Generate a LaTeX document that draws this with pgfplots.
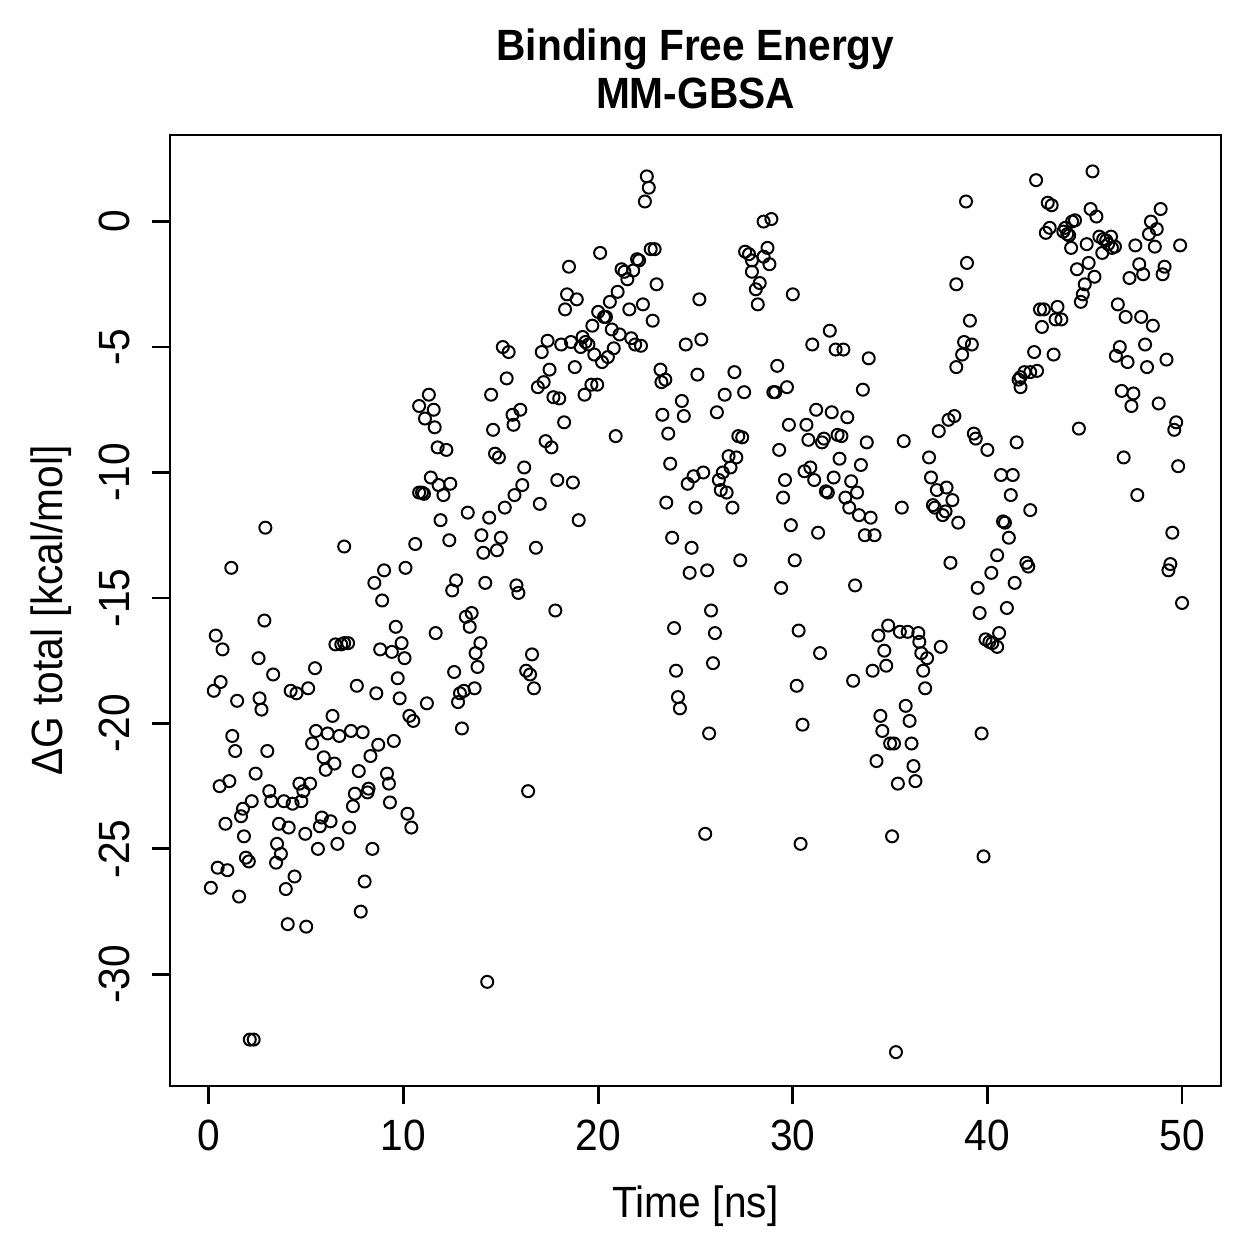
\documentclass[border=0pt]{standalone}
\usepackage{fontspec}
\setmainfont{Liberation Sans}[FakeStretch=0.93]
\usepackage{pgfplots}
\pgfplotsset{compat=1.18}
\pgfplotstableread{
x y
0.1 -26.55
0.25 -18.7
0.35 -16.5
0.45 -25.75
0.55 -22.5
0.6 -18.35
0.7 -17.05
0.85 -24.0
0.95 -25.85
1.05 -22.3
1.15 -13.8
1.2 -20.5
1.35 -21.1
1.45 -19.1
1.55 -26.9
1.65 -23.7
1.75 -23.4
1.8 -24.5
1.9 -25.35
2.05 -25.5
2.1 -32.6
2.3 -32.6
2.2 -23.1
2.4 -22.0
2.55 -17.4
2.6 -19.0
2.7 -19.45
2.85 -15.9
2.9 -12.2
3.0 -21.1
3.1 -22.7
3.2 -23.1
3.3 -18.05
3.45 -25.55
3.5 -24.8
3.6 -24.0
3.7 -25.2
3.85 -23.1
3.95 -26.6
4.05 -28.0
4.1 -24.15
4.2 -18.7
4.3 -23.2
4.4 -26.1
4.5 -18.8
4.65 -22.4
4.75 -23.1
4.85 -22.7
4.95 -24.4
5.0 -28.1
5.1 -18.6
5.2 -22.4
5.3 -20.8
5.45 -17.8
5.5 -20.3
5.6 -25.0
5.7 -24.1
5.8 -23.75
5.9 -21.35
6.0 -21.85
6.1 -20.4
6.25 -23.9
6.35 -19.7
6.45 -21.6
6.5 -16.85
6.6 -24.8
6.7 -20.5
6.8 -16.85
6.95 -16.8
6.95 -12.95
7.15 -16.8
7.2 -24.15
7.3 -20.3
7.4 -23.3
7.5 -22.8
7.6 -18.5
7.7 -21.9
7.8 -27.5
7.9 -20.35
8.0 -26.3
8.15 -22.75
8.2 -22.6
8.3 -21.3
8.4 -25.0
8.5 -14.4
8.6 -18.8
8.7 -20.85
8.8 -17.05
8.9 -15.1
9.0 -13.9
9.15 -22.0
9.25 -22.4
9.3 -23.15
9.4 -17.15
9.5 -20.7
9.6 -16.15
9.7 -18.2
9.8 -19.0
9.9 -16.8
10.05 -17.4
10.1 -13.8
10.2 -23.6
10.3 -19.7
10.4 -24.15
10.5 -19.9
10.6 -12.85
10.8 -7.35
10.8 -10.8
10.95 -10.8
11.05 -10.85
11.1 -7.85
11.2 -19.2
11.3 -6.9
11.4 -10.2
11.55 -7.5
11.6 -8.2
11.65 -16.4
11.75 -9.0
11.8 -10.5
11.9 -11.9
12.05 -10.9
12.2 -9.1
12.35 -12.7
12.4 -10.45
12.5 -14.7
12.6 -17.95
12.7 -14.3
12.8 -19.15
12.9 -18.8
13.0 -20.2
13.1 -18.7
13.2 -15.75
13.3 -11.6
13.4 -16.15
13.5 -15.6
13.65 -18.6
13.7 -17.2
13.8 -17.75
13.95 -16.8
14.0 -12.5
14.1 -13.2
14.2 -14.4
14.3 -30.3
14.4 -11.8
14.5 -6.9
14.6 -8.3
14.7 -9.25
14.8 -13.1
14.9 -9.4
15.0 -12.6
15.1 -5.0
15.2 -11.4
15.3 -6.25
15.4 -5.2
15.6 -7.7
15.65 -8.1
15.7 -10.9
15.8 -14.5
15.9 -14.8
16.0 -7.5
16.1 -10.5
16.2 -9.8
16.3 -17.9
16.4 -22.7
16.5 -18.05
16.6 -17.25
16.7 -18.6
16.8 -13.0
16.9 -6.6
17.0 -11.25
17.1 -5.2
17.2 -6.4
17.3 -8.75
17.4 -4.75
17.5 -5.9
17.6 -9.0
17.7 -7.0
17.8 -15.5
17.9 -10.3
18.0 -7.05
18.1 -4.9
18.25 -8.0
18.3 -3.5
18.4 -2.9
18.5 -1.8
18.6 -4.8
18.7 -10.4
18.8 -5.8
18.9 -3.1
19.0 -11.9
19.1 -5.0
19.2 -4.6
19.3 -6.9
19.35 -4.8
19.5 -4.9
19.65 -6.5
19.7 -4.15
19.8 -5.3
19.95 -6.5
20.0 -3.6
20.1 -1.25
20.2 -5.6
20.3 -3.8
20.4 -3.8
20.5 -5.4
20.6 -3.2
20.7 -4.3
20.8 -5.05
20.9 -8.55
21.0 -2.8
21.1 -4.5
21.2 -1.9
21.35 -2.0
21.5 -2.3
21.6 -3.5
21.7 -4.65
21.8 -1.95
21.9 -4.9
22.0 -1.5
22.1 -1.55
22.2 -4.95
22.3 -3.3
22.4 0.8
22.5 1.8
22.6 1.35
22.7 -1.1
22.8 -3.95
22.9 -1.1
23.0 -2.5
23.2 -5.9
23.25 -6.4
23.3 -7.7
23.45 -6.3
23.5 -11.2
23.6 -8.45
23.7 -9.65
23.8 -12.6
23.9 -16.2
24.0 -17.9
24.1 -18.95
24.2 -19.4
24.3 -7.15
24.4 -7.75
24.5 -4.9
24.6 -10.45
24.7 -14.0
24.8 -13.0
24.9 -10.15
25.0 -11.4
25.1 -6.1
25.2 -3.1
25.3 -4.7
25.4 -10.0
25.5 -24.4
25.6 -13.9
25.7 -20.4
25.8 -15.5
25.9 -17.6
26.0 -16.4
26.1 -7.6
26.2 -10.3
26.3 -10.7
26.4 -10.0
26.5 -6.9
26.6 -10.8
26.7 -9.35
26.8 -9.8
26.9 -11.4
27.0 -6.0
27.1 -9.4
27.2 -8.55
27.3 -13.5
27.4 -8.6
27.5 -6.8
27.55 -1.2
27.75 -1.3
27.9 -1.55
27.9 -2.0
28.1 -2.7
28.2 -3.3
28.3 -2.45
28.5 -1.4
28.5 0.0
28.7 -1.05
28.8 -1.7
28.9 0.1
29.0 -6.8
29.1 -6.8
29.2 -5.75
29.3 -9.1
29.4 -14.6
29.5 -11.0
29.6 -10.3
29.7 -6.6
29.8 -8.1
29.9 -12.1
30.0 -2.9
30.1 -13.5
30.2 -18.5
30.3 -16.3
30.4 -24.8
30.5 -20.05
30.6 -9.95
30.7 -8.1
30.8 -8.7
30.9 -9.8
31.0 -4.9
31.1 -10.3
31.2 -7.5
31.3 -12.4
31.4 -17.2
31.5 -8.8
31.6 -8.65
31.7 -10.75
31.8 -10.8
31.9 -4.35
32.0 -7.6
32.1 -10.2
32.2 -5.1
32.3 -8.5
32.4 -9.45
32.5 -8.55
32.6 -5.1
32.7 -11.0
32.8 -7.8
32.9 -11.4
33.0 -10.35
33.1 -18.3
33.2 -14.5
33.3 -10.8
33.4 -11.7
33.5 -9.7
33.6 -6.7
33.7 -12.5
33.8 -8.8
33.9 -5.45
34.0 -11.8
34.1 -17.9
34.2 -12.5
34.3 -21.5
34.4 -16.5
34.5 -19.7
34.6 -20.3
34.7 -17.1
34.8 -17.7
34.9 -16.1
35.0 -20.8
35.1 -24.5
35.2 -20.8
35.3 -33.1
35.4 -22.4
35.5 -16.35
35.6 -11.4
35.7 -8.75
35.8 -19.3
35.9 -16.35
36.0 -19.9
36.1 -20.8
36.2 -21.7
36.3 -22.3
36.45 -16.4
36.5 -16.75
36.6 -17.2
36.7 -17.9
36.8 -18.6
36.9 -17.4
37.0 -9.4
37.1 -10.2
37.2 -11.3
37.3 -11.4
37.4 -10.7
37.5 -8.35
37.6 -16.95
37.7 -11.7
37.85 -11.55
37.9 -10.6
38.0 -7.9
38.1 -13.6
38.2 -11.1
38.3 -7.75
38.4 -2.5
38.4 -5.8
38.5 -12.0
38.7 -5.3
38.8 -4.8
38.9 0.8
38.95 -1.65
39.1 -3.95
39.2 -4.9
39.3 -8.45
39.4 -8.65
39.5 -14.6
39.6 -15.6
39.7 -20.4
39.8 -25.3
39.9 -16.65
40.0 -9.1
40.1 -16.75
40.2 -14.0
40.25 -16.8
40.5 -16.95
40.5 -13.3
40.6 -16.4
40.7 -10.1
40.8 -11.95
40.9 -12.0
41.0 -15.4
41.1 -12.6
41.2 -10.9
41.3 -10.1
41.4 -14.4
41.5 -8.8
41.6 -6.3
41.7 -6.2
41.7 -6.6
41.9 -6.0
42.0 -13.6
42.1 -13.75
42.2 -11.5
42.2 -6.0
42.4 -5.2
42.5 1.65
42.55 -5.95
42.7 -3.5
42.8 -4.2
42.9 -3.5
43.0 -0.45
43.1 0.75
43.2 -0.25
43.3 0.65
43.4 -5.3
43.5 -3.9
43.6 -3.4
43.8 -3.9
43.9 -0.4
44.0 -0.25
44.1 -0.5
44.2 -0.55
44.3 -1.05
44.35 0.0
44.5 0.05
44.6 -1.9
44.7 -8.25
44.8 -3.2
44.9 -2.9
45.0 -2.5
45.1 -0.9
45.2 -1.65
45.3 0.5
45.4 2.0
45.5 -2.2
45.6 0.2
45.75 -0.6
45.9 -1.25
45.95 -0.7
46.1 -0.75
46.2 -0.9
46.35 -0.6
46.4 -1.05
46.55 -1.0
46.6 -5.35
46.7 -3.3
46.8 -5.0
46.9 -6.75
47.0 -9.4
47.1 -3.8
47.2 -5.6
47.3 -2.25
47.4 -7.35
47.5 -6.85
47.6 -0.95
47.7 -10.9
47.8 -1.7
47.9 -3.8
48.0 -2.1
48.1 -4.9
48.2 -5.8
48.3 -0.5
48.4 0.0
48.5 -4.15
48.6 -1.0
48.7 -0.3
48.8 -7.25
48.9 0.5
49.0 -2.1
49.1 -1.8
49.2 -5.5
49.3 -13.9
49.4 -13.65
49.5 -12.4
49.6 -8.3
49.7 -8.0
49.8 -9.75
49.9 -0.95
50.0 -15.2
}\dgdata
\begin{document}
\begin{tikzpicture}
\path[use as bounding box] (-68pt,-69.2pt) rectangle (435.6pt,434.4pt);
\begin{axis}[
  at={(0pt,0pt)}, anchor=south west,
  scale only axis, width=420.4pt, height=380.4pt,
  xmin=-2, xmax=52, ymin=-34.45, ymax=3.45,
  axis line style={line width=1.15pt},
  xtick={0,10,20,30,40,50}, ytick={-30,-25,-20,-15,-10,-5,0},
  xticklabels={0,10,20,30,40,50}, yticklabels={-30,-25,-20,-15,-10,-5,0},
  tick align=outside, xtick pos=left, ytick pos=left,
  major tick length=7.2pt,
  every tick/.style={black, line width=1.15pt},
  tick label style={font=\fontsize{17.5}{20}\selectfont},
  xticklabel style={anchor=base, inner sep=0pt, yshift=-18.4pt},
  yticklabel style={rotate=90, anchor=base, inner sep=0pt, yshift=8.8pt},
  title={Binding Free Energy\\MM-GBSA},
  title style={font=\bfseries\fontsize{17.5}{19.2}\selectfont, align=center,
    at={(axis description cs:0.5,1)}, anchor=south, inner sep=0pt, yshift=4.4pt},
  xlabel={Time [ns]},
  xlabel style={font=\fontsize{17.5}{20}\selectfont, at={(axis description cs:0.5,0)},
    anchor=base, inner sep=0pt, yshift=-52.4pt},
  ylabel={ΔG total [kcal/mol]},
  ylabel style={font=\fontsize{17.5}{20}\selectfont, at={(axis description cs:0,0.5)},
    anchor=base, inner sep=0pt, yshift=42.8pt},
]
\addplot[only marks, mark=o, mark size=2.4pt, black, mark options={line width=0.8pt}] table[x=x, y=y] {\dgdata};
\end{axis}
\end{tikzpicture}
\end{document}
